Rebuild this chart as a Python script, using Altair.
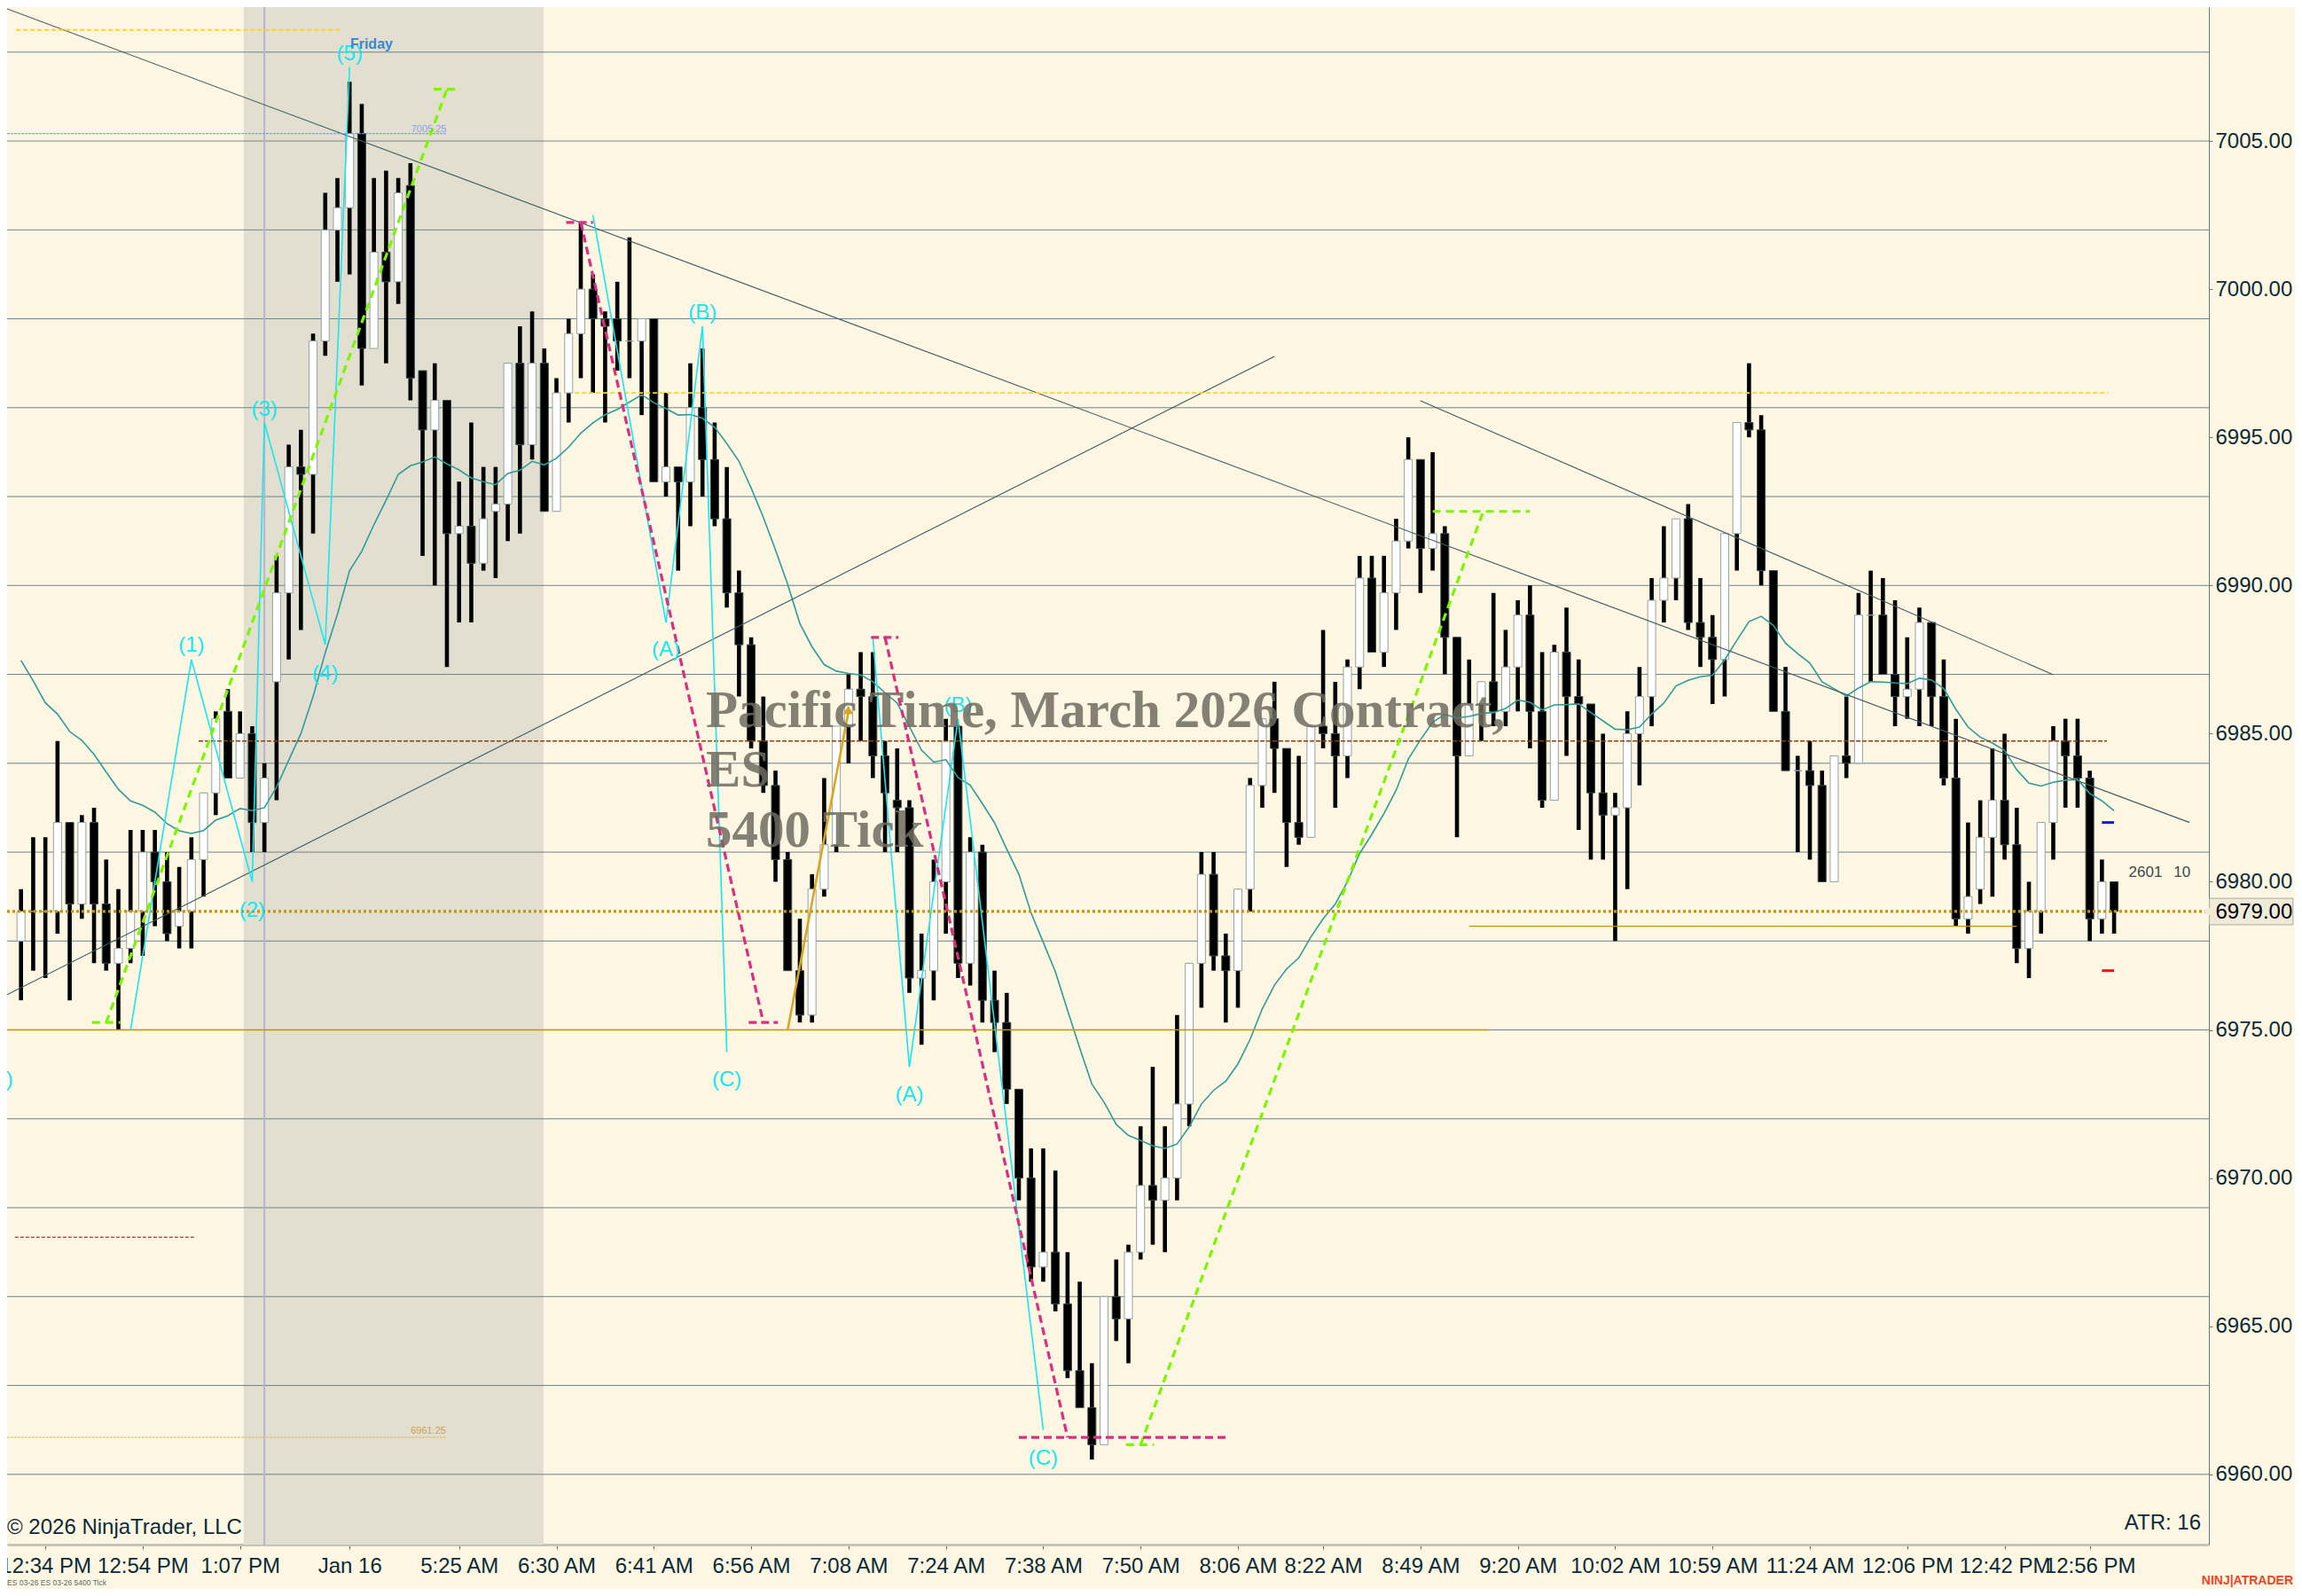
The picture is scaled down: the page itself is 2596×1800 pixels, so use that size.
import json
import altair as alt
import pandas as pd

open_ = [6978,6979,6979,6979,6982,6979.25,6982,6979.25,6977.25,6977.75,6979,6981,6980,6978.5,6979,6980.75,6983,6985.75,6983.5,6985,
6982,6986.75,6989.75,6994,6993.75,6998.25,7002,7002.75,7005.25,6998,7001.25,7000.25,7003.5,6997.25,6995.25,6996.25,6991.75,6992,6990.75,6992.5,
6992.75,6997.5,6994.75,6997.5,6992.5,6996.5,6998.5,7000,6999,6999,6998.25,6998.25,6999,6993.5,6994,6993.5,6996,6994.25,6992.25,6989.75,
6988,6984.75,6983.25,6980.75,6977,6975.5,6979.75,6981.25,6985.25,6986.5,6986.25,6984.25,6982.75,6982.5,6976.75,6977,6980,6985.25,6977.25,6981,
6976,6975.25,6973,6970,6967,6967.5,6965.75,6963.5,6962.25,6961,6966,6965.25,6967.5,6969.75,6969.25,6970,6972.5,6977.25,6980.25,6977.5,
6977,6979.75,6983.25,6985.5,6984.5,6982,6981.5,6985.25,6985,6984.25,6987.25,6990.25,6987.75,6989.75,6991.5,6994.25,6991.25,6991.75,6988.25,6984.25,
6986,6986.75,6985.75,6987.25,6989,6985.75,6982.75,6987.75,6986.25,6986,6983,6982.25,6982.5,6985,6986.25,6989.5,6990.25,6992.25,6988.75,6988.25,
6987.5,6991.75,6995.5,6995.25,6990.5,6985.75,6983.75,6983.75,6983.25,6980,6984.25,6984,6989,6989,6987,6986.25,6986.5,6988.75,6986.25,6983.5,
6978.75,6979.75,6981.5,6982.75,6981.25,6977.75,6979,6982,6984.75,6984.25,6983.5,6978.75,6980]
close = [6979,6979,6979,6982,6979.25,6982,6979.25,6977.25,6977.75,6979,6981,6980,6978.25,6979,6980.75,6983,6985.5,6983.5,6985,6982,
6983.5,6989.75,6994,6993.75,6998.25,7002,7002.75,7005.25,6998,7001.25,7000.25,7003.25,6997,6995.25,6996.25,6991.75,6992,6990.75,6992.25,6992.75,
6997.5,6994.75,6997.5,6992.5,6996.5,6998.5,7000,6999,6998.75,6998.25,6998.25,6999,6993.5,6994,6993.5,6996,6994.25,6992.25,6989.75,6988,
6984.75,6983.25,6980.75,6977,6975.5,6979.75,6981.25,6985.25,6986.5,6986.25,6984.25,6983,6982.5,6976.75,6977,6980,6984.75,6977.25,6981,6976,
6975.25,6973,6970,6967,6967.5,6965.75,6963.5,6962.25,6961,6966,6965.25,6967.5,6969.75,6969.25,6970,6972.5,6977.25,6980.25,6977.5,6977,
6979.75,6983.25,6985.5,6984.5,6982,6981.5,6985.25,6985,6984.25,6987.25,6990.25,6987.75,6989.75,6991.5,6994.25,6991.25,6991.75,6988.25,6984.25,6986,
6986.75,6985.75,6987.25,6989,6985.75,6982.75,6987.75,6986.25,6986,6983,6982.25,6982.5,6985,6986.25,6989.5,6990.25,6992.25,6988.75,6988.25,6987.5,
6991.75,6995.5,6995.25,6990.5,6985.75,6983.75,6983.75,6983.25,6980,6984.25,6984,6989,6989,6987,6986.25,6986.5,6988.75,6986.25,6983.5,6978.75,
6979.5,6981.5,6982.75,6981.25,6977.75,6979,6982,6984.75,6984.25,6983.5,6978.75,6980,6979]
high = [6979.75,6981.5,6981.5,6984.75,6982,6982.25,6982.5,6980.75,6979.75,6981.75,6981.75,6981.75,6981,6980.5,6981.5,6983,6985.75,6986.5,6985.75,6985.25,
6984,6991,6994.75,6995.25,6998.5,7003.25,7003.75,7007,7006.25,7003.75,7004,7003.75,7004.25,6997.25,6997.5,6996.25,6993.5,6995.5,6994,6994,
6997.5,6998.75,6999.25,6998,6997,6999,7002.25,7000.5,6999.25,7000.25,7001.75,6999,6999,6996.5,6994,6997.5,6998,6995.5,6994,6990.5,
6988.25,6986.25,6983.75,6981,6978.75,6980.25,6983.5,6985.25,6987,6987.75,6987.75,6984.75,6984.5,6982.75,6978.25,6980.75,6985.5,6985.25,6981.5,6981.25,
6977,6976.25,6973,6971,6971,6970.25,6967.5,6966.5,6963.75,6966,6967.25,6967.75,6971.75,6973.75,6971.75,6975.5,6977.25,6981,6981,6978.25,
6979.75,6983.5,6985.5,6986.75,6984.5,6984.25,6985.25,6988.5,6986.75,6987.5,6991,6991,6991,6992.25,6995,6994.25,6994.5,6992,6988.25,6987.5,
6986.75,6989.75,6988.5,6989.5,6990,6987.75,6988,6989.25,6987.5,6986,6985,6983,6985.75,6987.25,6990.25,6992,6992.25,6992.75,6990.25,6989,
6991.75,6995.5,6997.5,6995.75,6990.5,6987.25,6984.25,6984.75,6983.75,6984.25,6986.25,6989.75,6990.5,6990.25,6989.5,6988.25,6989.25,6988.75,6987.5,6985.5,
6982,6982.75,6984.5,6985,6982.5,6980,6982,6985.25,6985.5,6985.5,6983.75,6980.75,6980]
low = [6976,6977,6976.75,6978.25,6976,6978.75,6977.25,6977,6975,6977.25,6977.5,6978.5,6978,6977.75,6977.75,6979.5,6982.25,6983.5,6983.5,6981,
6981,6982.75,6987.5,6988.5,6991.75,6997.75,7000.25,7000.5,6996.75,6998,6997.5,6999.5,6996.25,6991,6990,6987.25,6988.75,6988.75,6990.5,6990.25,
6991.5,6991.75,6994.25,6992.5,6992.5,6995.5,6997,6996.5,6995.5,6997.25,6997,6995.75,6993.5,6993,6990.5,6992,6993,6992,6989.25,6986.25,
6984.5,6983,6980,6977,6975.25,6975.25,6979.5,6981,6984,6984.75,6983.5,6981,6981,6976.25,6974.5,6976,6978.25,6976.75,6976.5,6975.25,
6974.25,6972.5,6969.25,6966.5,6966.5,6965.5,6963.25,6962.25,6960.5,6961,6964.5,6963.75,6967.25,6967.75,6967.5,6969.25,6971.75,6975.75,6977,6975.25,
6975.75,6979,6982.5,6983,6980.5,6981.25,6981.5,6984.5,6982.5,6983.5,6986.5,6987.75,6987.25,6988.5,6991.25,6989.75,6990.5,6987,6981.5,6984.25,
6984.75,6985.25,6985.25,6985.75,6984.5,6982.5,6982.75,6984.25,6981.75,6980.75,6980.75,6978,6979.75,6983.25,6985.25,6988.75,6989.5,6988.5,6987.25,6986,
6986.25,6990.5,6995,6990,6985.75,6983.75,6981,6980.75,6980,6980,6983.5,6984,6986.75,6987,6985.25,6985.5,6985.25,6985.25,6983.25,6978.5,
6978.25,6979.25,6979.5,6980.75,6977.25,6976.75,6978.25,6980.75,6982.5,6982.5,6978,6978.25,6978.25]
ema = [6987.47,6986.78,6986.04,6985.66,6985.07,6984.77,6984.3,6983.7,6983.12,6982.73,6982.58,6982.35,6981.96,6981.72,6981.63,6981.73,6982.08,6982.23,6982.47,6982.4,
6982.5,6983.2,6984.1,6985.0,6986.25,6987.73,6989.03,6990.5,6991.15,6992.05,6992.88,6993.75,6994.04,6994.17,6994.34,6994.1,6993.9,6993.63,6993.5,6993.4,
6993.78,6993.89,6994.19,6994.07,6994.29,6994.67,6995.14,6995.49,6995.76,6995.94,6996.19,6996.44,6996.17,6995.97,6995.75,6995.77,6995.64,6995.34,6994.79,6994.19,
6993.29,6992.3,6991.2,6990.04,6988.72,6987.93,6987.33,6987.11,6987.03,6986.98,6986.75,6986.38,6986.03,6985.24,6984.44,6984.04,6984.12,6983.52,6983.26,6982.64,
6981.99,6981.1,6980.25,6978.95,6977.96,6976.96,6975.66,6974.39,6973.17,6972.56,6971.81,6971.44,6971.27,6971.09,6971.0,6971.15,6971.73,6972.5,6972.96,6973.27,
6973.85,6974.68,6975.71,6976.51,6977.06,6977.43,6978.14,6978.75,6979.25,6980.0,6980.95,6981.6,6982.3,6983.09,6984.14,6984.79,6985.38,6985.65,6985.53,6985.58,
6985.68,6985.71,6985.85,6986.13,6986.06,6985.8,6985.97,6985.98,6986.0,6985.71,6985.43,6985.15,6985.13,6985.22,6985.66,6986.03,6986.61,6986.8,6986.92,6986.97,
6987.49,6988.15,6988.78,6988.96,6988.65,6988.05,6987.7,6987.38,6986.75,6986.51,6986.27,6986.54,6986.75,6986.74,6986.71,6986.69,6986.87,6986.81,6986.52,6985.82,
6985.22,6984.88,6984.68,6984.43,6983.78,6983.33,6983.23,6983.36,6983.43,6983.45,6982.98,6982.73,6982.4]

grid_prices = [6960,6963,6966,6969,6972,6975,6978,6981,6984,6987,6990,6993,6996,6999,7002,7005,7008]
price_ticks = [6960,6965,6970,6975,6980,6985,6990,6995,7000,7005]
time_ticks = [2,10,18,27,36,44,52,60,68,76,84,92,100,107,115,123,131,139,147,155,163,170]
time_labels = ["12:34 PM","12:54 PM","1:07 PM","Jan 16","5:25 AM","6:30 AM","6:41 AM","6:56 AM","7:08 AM","7:24 AM","7:38 AM",
               "7:50 AM","8:06 AM","8:22 AM","8:49 AM","9:20 AM","10:02 AM","10:59 AM","11:24 AM","12:06 PM","12:42 PM","12:56 PM"]

wave_a_x, wave_a_p = [9,14,19,20,25,27], [6975,6987.5,6980,6995.5,6988,7007.5]
wave_b_x, wave_b_p = [47,53,56,58], [7002.5,6988.75,6998.75,6974.25]
wave_c_x, wave_c_p = [70,73,77,84], [6988.25,6973.75,6985.5,6961.5]
wave_tx = [14,19,20,25,27,53,56,58,73,77,84,-1.87]
wave_tp = [6987.96,6979.03,6995.94,6987.02,7007.92,6987.82,6999.2,6973.3,6972.8,6985.95,6960.54,6973.31]
wave_tt = ["(1)","(2)","(3)","(4)","(5)","(A)","(B)","(C)","(A)","(B)","(C)","(C)"]

XMIN, XMAX = -1.144, 179.79
YMIN, YMAX = 6957.63, 7009.52
BG = "#FDF6E3"
FONT = "Liberation Sans"
INK = "#0b2b36"
sx = alt.Scale(domain=[XMIN, XMAX], nice=False, zero=False, padding=0)
sy = alt.Scale(domain=[YMIN, YMAX], nice=False, zero=False, padding=0)
label_expr = f"{json.dumps(time_labels)}[indexof({json.dumps(time_ticks)}, datum.value)]"
x_axis = alt.Axis(values=time_ticks, labelExpr=label_expr, grid=False, title=None, labelFont=FONT, labelFontSize=24, labelColor=INK,
                  labelPadding=7, tickSize=5, tickColor="#5a6a6a", domainColor="#c2c5ba", domainWidth=3, labelFlush=False, labelOverlap=False)
y_axis = alt.Axis(orient="right", values=price_ticks, format=".2f", grid=False, title=None, labelFont=FONT, labelFontSize=24, labelColor=INK,
                  labelPadding=3, tickSize=4, tickColor="#5f7a80", domainColor="#5f7a80", domainWidth=1, labelOverlap=False)
X = lambda f="x": alt.X(f"{f}:Q", scale=sx, axis=x_axis)
Y = lambda f="p": alt.Y(f"{f}:Q", scale=sy, axis=y_axis)


def poly(xs, ps, color, width=1.0, dash=None):
    kw = dict(color=color, strokeWidth=width, clip=True)
    if dash:
        kw["strokeDash"] = dash
    return alt.Chart(pd.DataFrame({"x": xs, "p": ps})).mark_line(**kw).encode(x=X(), y=Y())


def label(x, p, text, color, size, align="center", baseline="middle", **kw):
    return alt.Chart(pd.DataFrame({"x": [x], "p": [p], "t": [text]})).mark_text(
        color=color, fontSize=size, align=align, baseline=baseline, font=kw.pop("font", FONT), **kw
    ).encode(x=X(), y=Y(), text="t:N")


def page_text(px, py, text, color, size, align="left", **kw):
    # position outside the plot area, in plot pixels
    return alt.Chart(pd.DataFrame({"t": [text]})).mark_text(
        color=color, fontSize=size, align=align, baseline="middle", font=FONT, **kw
    ).encode(x=alt.value(px), y=alt.value(py), text="t:N")


df = pd.DataFrame({"x": list(range(len(open_))), "open": open_, "close": close, "high": high, "low": low, "ema": ema})
up = df[df.close >= df.open]
dn = df[df.close < df.open]

band = alt.Chart(pd.DataFrame({"x": [18.3], "x2": [42.94]})).mark_rect(color="#E2DFD0").encode(x=X(), x2="x2:Q")
vline = alt.Chart(pd.DataFrame({"x": [20]})).mark_rule(color="#B4B5CC", strokeWidth=2).encode(x=X())
grid = alt.Chart(pd.DataFrame({"p": grid_prices})).mark_rule(color="#6F8488", strokeWidth=1).encode(y=Y())

wicks = alt.Chart(df).mark_rule(color="#000000", strokeWidth=4.6).encode(x=X(), y=Y("high"), y2="low:Q")
bodies_up = alt.Chart(up).mark_bar(size=9, color="#FFFFFF", stroke="#93A3A6", strokeWidth=1, orient="vertical").encode(x=X(), y=Y("open"), y2="close:Q")
bodies_dn = alt.Chart(dn).mark_bar(size=9, color="#000000", stroke="#33494D", strokeWidth=1, orient="vertical").encode(x=X(), y=Y("open"), y2="close:Q")
ema_line = alt.Chart(df).mark_line(color="#2E9C98", strokeWidth=1.6).encode(x=X(), y=Y("ema"))

DARK = "#3E5B5E"
LIME = "#7CF500"
PINK = "#D8307F"
SERIF = dict(align="left", baseline="alphabetic", font="Liberation Serif", fontWeight="bold", opacity=0.85)
layers = [
    band, grid, vline, wicks, bodies_up, bodies_dn, ema_line,
    poly([XMIN, 178.2], [7009.46, 6982.0], DARK, 1.1),
    poly([XMIN, 103], [6976.19, 6997.73], DARK, 1.1),
    poly([115, 167], [6996.23, 6986.99], DARK, 1.1),
    poly([-0.4, 26.4], [7008.75, 7008.75], "#FFD21E", 1.8, [5, 3]),
    poly([45.5, 171.5], [6996.5, 6996.5], "#FFD21E", 1.8, [5, 3]),
    poly([14.6, 171.4], [6984.75, 6984.75], "#8A3F12", 1.6, [5, 2]),
    poly([-0.5, 14.3], [6968, 6968], "#A0402A", 1.2, [4, 2]),
    poly([XMIN, 34.9], [7005.25, 7005.25], "#6A90E0", 1, [3, 1]),
    poly([XMIN, 34.9], [6961.25, 6961.25], "#D9B860", 1, [3, 1]),
    poly([XMIN, XMAX], [6979, 6979], "#C4940A", 3.2, [3, 3]),
    poly([XMIN, 120.6], [6975, 6975], "#C4940A", 1.6),
    poly([119, 164], [6978.5, 6978.5], "#C4940A", 1.4),
    poly(wave_a_x, wave_a_p, "#14E8F0", 1.6),
    poly(wave_b_x, wave_b_p, "#14E8F0", 1.6),
    poly(wave_c_x, wave_c_p, "#14E8F0", 1.6),
    poly([7, 35], [6975.25, 7006.75], LIME, 3.2, [9, 6]),
    poly([5.83, 8.15], [6975.25, 6975.25], LIME, 3.2, [9, 6]),
    poly([33.9, 36.1], [7006.75, 7006.75], LIME, 3.2, [9, 6]),
    poly([92, 120.16], [6961, 6992.5], LIME, 3.2, [9, 6]),
    poly([90.8, 93.1], [6961, 6961], LIME, 3.2, [9, 6]),
    poly([116, 124], [6992.5, 6992.5], LIME, 3.2, [9, 6]),
    poly([46, 61], [7002.25, 6975.25], PINK, 3.2, [9, 5]),
    poly([44.8, 47], [7002.25, 7002.25], PINK, 3.2, [9, 5]),
    poly([59.8, 62.2], [6975.25, 6975.25], PINK, 3.2, [9, 5]),
    poly([71, 86], [6988.25, 6961.25], PINK, 3.2, [9, 5]),
    poly([69.85, 72.1], [6988.25, 6988.25], PINK, 3.2, [9, 5]),
    poly([82, 99], [6961.25, 6961.25], PINK, 3.2, [9, 5]),
    poly([63, 68], [6975, 6985.75], "#DAA520", 2.6),
    alt.Chart(pd.DataFrame({"x": [67.98], "p": [6985.8]})).mark_point(
        shape="triangle-up", size=130, filled=True, color="#DAA520", opacity=1).encode(x=X(), y=Y()),
    alt.Chart(pd.DataFrame({"x": [171, 172], "p": [6982, 6982]})).mark_line(color="#1414E0", strokeWidth=3).encode(x=X(), y=Y()),
    alt.Chart(pd.DataFrame({"x": [171, 172], "p": [6977, 6977]})).mark_line(color="#E81414", strokeWidth=3).encode(x=X(), y=Y()),
    alt.Chart(pd.DataFrame({"x": wave_tx, "p": wave_tp, "t": wave_tt})).mark_text(
        color="#14E8F0", fontSize=24, font=FONT, clip=True).encode(x=X(), y=Y(), text="t:N"),
    label(27.05, 7008.26, "Friday", "#3A87D0", 16, align="left", fontWeight="bold"),
    label(33.51, 7005.4, "7005.25", "#8CA0E8", 11),
    label(33.47, 6961.46, "6961.25", "#D0A050", 11),
    label(56.28, 6985.22, "Pacific Time, March 2026 Contract,", "#6F6C60", 59, **SERIF),
    label(56.28, 6983.23, "ES", "#6F6C60", 59, **SERIF),
    label(56.28, 6981.18, "5400 Tick", "#6F6C60", 59, **SERIF),
    label(173.2, 6980.3, "2601", "#3A4A4A", 17, align="left"),
    label(176.9, 6980.3, "10", "#3A4A4A", 17, align="left"),
    alt.Chart(pd.DataFrame({"x": [179.83], "x2": [186.7], "p": [6979.44], "p2": [6978.55]})).mark_rect(
        color="#F0EAD8", stroke="#A9ABA0", strokeWidth=1).encode(x=X(), x2="x2:Q", y=Y(), y2="p2:Q"),
    alt.Chart(pd.DataFrame({"x": [179.75], "p": [6979]})).mark_point(
        shape="triangle-left", size=200, filled=True, color="#F0EAD8", opacity=1).encode(x=X(), y=Y()),
    page_text(2490.5, 1020.7, "6979.00", "#000000", 24),
    page_text(0, 1715, "\u00a9 2026 NinjaTrader, LLC", INK, 24),
    page_text(2474, 1710, "ATR: 16", INK, 24, align="right"),
    page_text(0, 1777, "ES 03-26 ES 03-26 5400 Tick", "#5A6A6A", 8.5),
    page_text(2578, 1775, "NINJ|ATRADER", "#E8472A", 14, align="right", fontWeight="bold"),
]

chart = alt.layer(*layers).resolve_scale(x="shared", y="shared").properties(
    width=2483, height=1734, background=BG,
    padding={"left": 0, "top": 0, "right": 97, "bottom": 50},
    autosize=alt.AutoSizeParams(type="none"),
).configure_view(stroke=None)

chart.save("out.html", embed_options={"renderer": "svg", "actions": False})
